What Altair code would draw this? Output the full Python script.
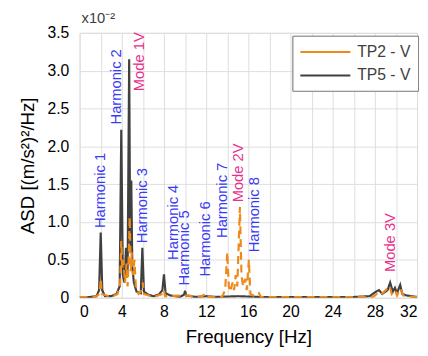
import altair as alt
import pandas as pd

# TP5 - V spectrum (frequency Hz, ASD x1e-2)
tp5_freq = [0, 1.0, 1.6, 1.85, 2.0, 2.15, 2.4, 3.0, 3.5, 3.8, 3.95, 4.1, 4.25, 4.4, 4.55, 4.7, 4.8, 4.9,
            5.0, 5.15, 5.4, 5.8, 5.95, 6.1, 6.5, 7.0, 7.5, 7.85, 8.0, 8.15, 8.6, 9.5, 9.9, 10.0, 10.1,
            11.0, 12.0, 13.0, 14.0, 15.0, 16.0, 17.0, 20.0, 24.0, 26.0, 27.5, 28.1, 28.4, 28.7, 29.2,
            29.45, 29.7, 29.9, 30.1, 30.4, 30.6, 31.0, 32.0]
tp5_val = [0.01, 0.01, 0.02, 0.1, 0.86, 0.1, 0.02, 0.02, 0.05, 0.15, 2.22, 0.3, 0.2, 0.66, 0.3, 3.15, 0.6, 1.55,
           0.4, 0.2, 0.08, 0.06, 0.66, 0.08, 0.04, 0.02, 0.04, 0.1, 0.31, 0.06, 0.03, 0.01, 0.04, 0.09, 0.03,
           0.01, 0.02, 0.01, 0.015, 0.02, 0.015, 0.01, 0.01, 0.01, 0.01, 0.02, 0.08, 0.1, 0.05, 0.1,
           0.2, 0.08, 0.13, 0.06, 0.17, 0.05, 0.03, 0.01]

# TP2 - V spectrum
tp2_freq = [0, 1.5, 1.9, 2.0, 2.1, 3.0, 3.6, 3.85, 3.95, 4.05, 4.15, 4.3, 4.45, 4.55, 4.65, 4.75, 4.85, 4.95,
            5.05, 5.2, 5.35, 5.6, 5.9, 6.0, 6.1, 7.0, 7.9, 8.0, 8.1, 10.0, 11.5, 12.0, 12.3, 13.5, 13.8,
            14.0, 14.15, 14.3, 14.5, 14.65, 14.8, 14.95, 15.05, 15.2, 15.35, 15.5, 15.7, 15.85, 16.05,
            16.2, 16.6, 17.0, 17.2, 20.0, 24.0, 27.8, 28.2, 28.5, 29.4, 29.6, 29.9, 30.1, 30.4, 30.7,
            31.5, 32.0]
tp2_val = [0.01, 0.01, 0.05, 0.25, 0.05, 0.01, 0.05, 0.2, 0.75, 0.4, 0.5, 0.2, 0.45, 0.15, 0.5, 1.07, 0.35, 0.6,
           0.3, 0.5, 0.1, 0.05, 0.1, 0.2, 0.05, 0.01, 0.05, 0.1, 0.02, 0.03, 0.01, 0.06, 0.01, 0.01, 0.1,
           0.6, 0.15, 0.08, 0.2, 0.1, 0.3, 0.15, 0.55, 1.2, 0.3, 0.15, 0.25, 0.1, 0.5,
           0.05, 0.02, 0.06, 0.01, 0.01, 0.01, 0.01, 0.05, 0.03, 0.15, 0.05, 0.1, 0.03, 0.12, 0.03,
           0.01, 0.01]

# annotations
ann_text = ["Harmonic 1", "Harmonic 2", "Mode 1V", "Harmonic 3", "Harmonic 4", "Harmonic 5",
            "Harmonic 6", "Harmonic 7", "Mode 2V", "Harmonic 8", "Mode 3V"]
ann_freq = [1.95, 3.45, 5.6, 5.95, 8.85, 9.95, 11.9, 13.5, 15.0, 16.5, 29.4]
ann_val = [0.92, 2.29, 2.73, 0.72, 0.5, 0.16, 0.28, 0.79, 1.26, 0.6, 0.34]
ann_kind = ["H", "H", "M", "H", "H", "H", "H", "H", "M", "H", "M"]

series_names = ["TP2 - V", "TP5 - V"]
x_ticks = list(range(0, 33, 2))
y_ticks = [0, 0.5, 1.0, 1.5, 2.0, 2.5, 3.0, 3.5]

df = pd.concat([
    pd.DataFrame({"f": tp5_freq, "v": tp5_val, "s": "TP5 - V", "o": 0}),
    pd.DataFrame({"f": tp2_freq, "v": tp2_val, "s": "TP2 - V", "o": 1}),
])
ann = pd.DataFrame({"t": ann_text, "f": ann_freq, "v": ann_val, "k": ann_kind})

FONT = "Liberation Sans"
GRAY = "#404040"

x = alt.X("f:Q", scale=alt.Scale(domain=[0, 32], nice=False),
          axis=alt.Axis(values=x_ticks, labelExpr="datum.value % 4 == 0 ? datum.label : ''",
                        title="Frequency [Hz]", grid=True, tickSize=0, labelPadding=6,
                        labelFontSize=16, titleFontSize=19, titlePadding=9, domain=False,
                        labelOverlap=False, titleFontWeight="normal"))
y = alt.Y("v:Q", scale=alt.Scale(domain=[0, 3.5], nice=False, clamp=True),
          axis=alt.Axis(values=y_ticks,
                        labelExpr="datum.value == 0 ? '0' : format(datum.value, '.1f')",
                        title="ASD [(m/s²)²/Hz]", grid=True, tickSize=0, labelPadding=11,
                        labelFontSize=16, titleFontSize=19, titlePadding=10, domain=False,
                        labelOverlap=False, titleFontWeight="normal"))

leg = alt.Legend(title=None, orient="none", legendX=217, legendY=3,
                 symbolType="M-1,0H5", symbolSize=289, symbolStrokeWidth=2,
                 labelFontSize=16, labelColor=GRAY, labelFont=FONT,
                 fillColor="white", strokeColor="#888888", padding=7,
                 rowPadding=6, labelOffset=40)

lines = alt.Chart(df).mark_line(strokeWidth=2.2, clip=True).encode(
    x=x, y=y,
    color=alt.Color("s:N", scale=alt.Scale(domain=series_names, range=["#EE8A1A", GRAY]), legend=leg),
    strokeDash=alt.StrokeDash("s:N", scale=alt.Scale(domain=series_names, range=[[8, 5], [1, 0]]),
                              legend=leg),
    order=alt.Order("o:Q"),
    detail="s:N",
)

texts = alt.Chart(ann).mark_text(angle=270, align="left", baseline="middle", fontSize=15,
                                 font=FONT).encode(
    x=x, y=y, text="t:N",
    color=alt.Color("k:N", scale=alt.Scale(domain=["H", "M"], range=["#3A3AF5", "#E8308C"]),
                    legend=None),
)

expo = alt.Chart(pd.DataFrame({"t": ["x10⁻²"]})).mark_text(
    align="left", baseline="middle", fontSize=15, color=GRAY, font=FONT).encode(
    text="t:N", x=alt.value(2), y=alt.value(-15))

chart = alt.layer(lines, texts, expo).resolve_scale(color="independent").properties(
    width=344, height=270,
    autosize=alt.AutoSizeParams(type="none"),
    padding={"left": 73, "top": 22, "right": 3, "bottom": 52},
).configure_view(stroke="#9a9a9a", strokeWidth=1).configure_axis(
    gridColor="#e8e8e8", labelColor=GRAY, titleColor=GRAY, labelFont=FONT, titleFont=FONT,
).configure(background="white")

chart.save("out.html", embed_options={"renderer": "svg", "actions": False})
